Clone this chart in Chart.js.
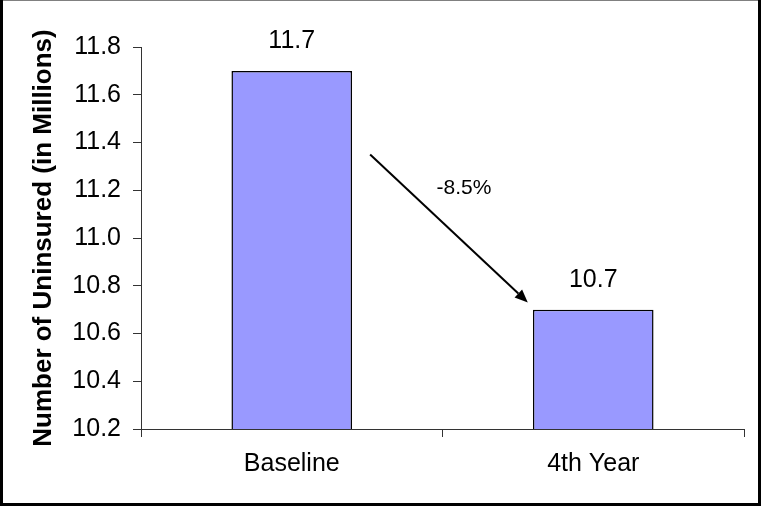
<!DOCTYPE html>
<html>
<head>
<meta charset="utf-8">
<script src="https://cdn.jsdelivr.net/npm/chart.js@4/dist/chart.umd.min.js"></script>
<style>
  html, body { margin: 0; padding: 0; background: #fff; }
  #wrap { width: 761px; height: 506px; }
</style>
</head>
<body>
<div id="wrap"><canvas id="c" width="761" height="506"></canvas></div>
<script>
// Uninsured population, baseline vs. 4th year
const categories = ['Baseline', '4th Year'];
const uninsured = [11.7, 10.7];
const yTicks = [10.2, 10.4, 10.6, 10.8, 11.0, 11.2, 11.4, 11.6, 11.8];
const changeLabel = '-8.5%';
// Change arrow, anchored in data space: [category index, value]
const arrowFrom = [0.26, 11.35];
const arrowTo = [0.783, 10.73];
const changeLabelAt = [0.571, 11.21];

const FONT = "'Liberation Sans', Arial, sans-serif";

const framePlugin = {
  id: 'frame',
  afterDraw(chart) {
    const ctx = chart.ctx, w = chart.width, h = chart.height;
    ctx.save();
    ctx.fillStyle = '#808080';
    ctx.fillRect(0, 0, w, 1);
    ctx.fillStyle = '#000';
    ctx.fillRect(0, 0, 3, h);
    ctx.fillRect(w - 3, 0, 3, h);
    ctx.fillRect(0, h - 3, w, 3);
    ctx.restore();
  }
};

const valueLabels = {
  id: 'valueLabels',
  afterDatasetsDraw(chart) {
    const ctx = chart.ctx;
    const meta = chart.getDatasetMeta(0);
    ctx.save();
    ctx.font = '25px ' + FONT;
    ctx.fillStyle = '#000';
    ctx.textAlign = 'center';
    ctx.textBaseline = 'middle';
    meta.data.forEach((bar, i) => {
      ctx.fillText(uninsured[i].toFixed(1), bar.x, bar.y - 30);
    });
    ctx.restore();
  }
};

const changeArrow = {
  id: 'changeArrow',
  afterDatasetsDraw(chart) {
    const xs = chart.scales.x, ys = chart.scales.y, ctx = chart.ctx;
    const x1 = xs.getPixelForValue(arrowFrom[0]), y1 = ys.getPixelForValue(arrowFrom[1]);
    const x2 = xs.getPixelForValue(arrowTo[0]), y2 = ys.getPixelForValue(arrowTo[1]);
    const ang = Math.atan2(y2 - y1, x2 - x1);
    const headLen = 13, headHalf = 5.5;
    const bx = x2 - headLen * Math.cos(ang), by = y2 - headLen * Math.sin(ang);
    ctx.save();
    ctx.strokeStyle = '#000';
    ctx.fillStyle = '#000';
    ctx.lineWidth = 2;
    ctx.beginPath();
    ctx.moveTo(x1, y1);
    ctx.lineTo(bx, by);
    ctx.stroke();
    ctx.beginPath();
    ctx.moveTo(x2, y2);
    ctx.lineTo(bx + headHalf * Math.sin(ang), by - headHalf * Math.cos(ang));
    ctx.lineTo(bx - headHalf * Math.sin(ang), by + headHalf * Math.cos(ang));
    ctx.closePath();
    ctx.fill();
    ctx.font = '21px ' + FONT;
    ctx.textAlign = 'center';
    ctx.textBaseline = 'middle';
    ctx.fillText(changeLabel, xs.getPixelForValue(changeLabelAt[0]), ys.getPixelForValue(changeLabelAt[1]));
    ctx.restore();
  }
};

new Chart(document.getElementById('c'), {
  type: 'bar',
  data: {
    labels: categories,
    datasets: [{
      data: uninsured,
      backgroundColor: '#9999FF',
      borderColor: '#000',
      borderWidth: 1.5,
      borderSkipped: false,
      barPercentage: 0.8,
      categoryPercentage: 0.5
    }]
  },
  options: {
    responsive: false,
    devicePixelRatio: 1,
    animation: false,
    layout: { padding: { left: 0, top: 47, right: 17, bottom: 0 } },
    plugins: { legend: { display: false }, tooltip: { enabled: false } },
    scales: {
      x: {
        afterFit(s) { s.height = 77; },
        grid: { drawOnChartArea: false, drawTicks: true, tickLength: 8, color: '#333', offset: true },
        border: { color: '#333', width: 1 },
        ticks: { color: '#000', font: { family: FONT, size: 25 }, padding: 12 }
      },
      y: {
        min: 10.2,
        max: 11.8,
        afterFit(s) { s.width = 141; },
        afterBuildTicks(s) { s.ticks = yTicks.map(v => ({ value: v })); },
        grid: { drawOnChartArea: false, drawTicks: true, tickLength: 8, color: '#333' },
        border: { color: '#333', width: 1 },
        ticks: {
          color: '#000',
          font: { family: FONT, size: 25 },
          padding: 12,
          callback: v => Number(v).toFixed(1)
        },
        title: {
          display: true,
          text: 'Number of Uninsured (in Millions)',
          color: '#000',
          font: { family: FONT, size: 26, weight: 'bold' },
          padding: { top: 28, bottom: 0 }
        }
      }
    }
  },
  plugins: [framePlugin, valueLabels, changeArrow]
});
</script>
</body>
</html>
